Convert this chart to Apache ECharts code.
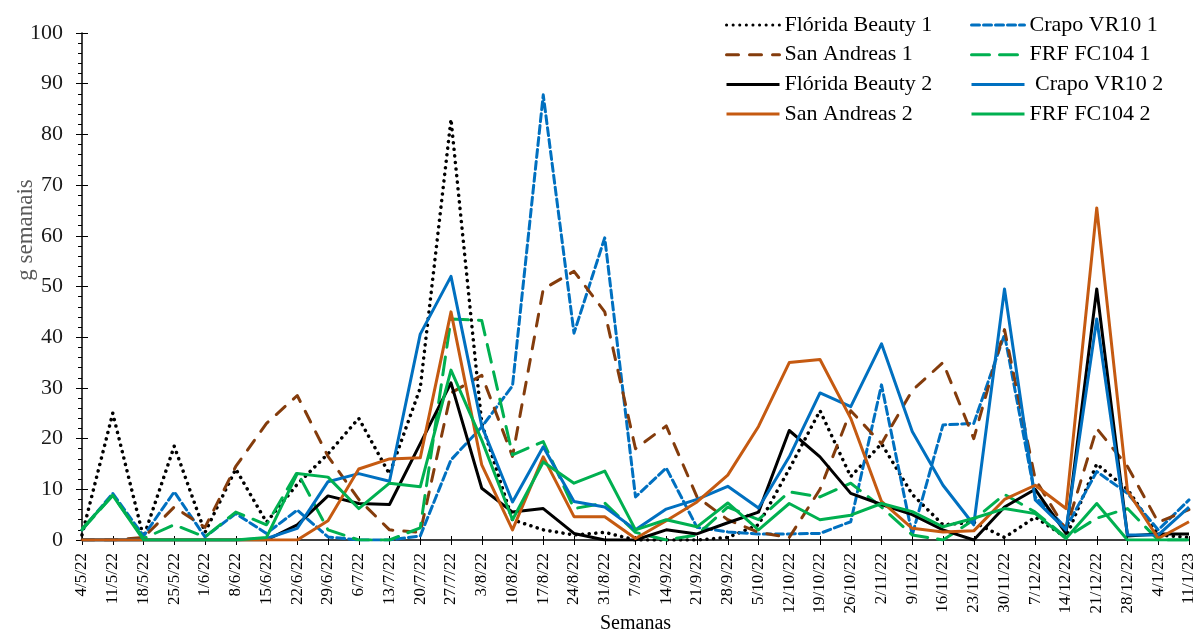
<!DOCTYPE html>
<html>
<head>
<meta charset="utf-8">
<script src="https://cdn.jsdelivr.net/npm/echarts@6/dist/echarts.min.js"></script>
<style>
  html, body { margin: 0; padding: 0; background: #fff; }
  #chart { width: 1194px; height: 632px; }
</style>
</head>
<body>
<div id="chart"></div>
<script>
const weeks = ['4/5/22','11/5/22','18/5/22','25/5/22','1/6/22','8/6/22','15/6/22','22/6/22','29/6/22','6/7/22',
  '13/7/22','20/7/22','27/7/22','3/8/22','10/8/22','17/8/22','24/8/22','31/8/22','7/9/22','14/9/22',
  '21/9/22','28/9/22','5/10/22','12/10/22','19/10/22','26/10/22','2/11/22','9/11/22','16/11/22','23/11/22',
  '30/11/22','7/12/22','14/12/22','21/12/22','28/12/22','4/1/23','11/1/23']

const florida1 = [1, 25, 0.5, 18.5, 1.5, 14, 3.5, 11, 17, 24, 13, 30, 83, 23, 4, 2, 1, 1.5, 0, 0,
  0, 0.5, 3, 14, 25.5, 12.5, 19, 9, 3, 3.5, 0.5, 4.5, 0.5, 15, 10, 1, 0.5]
const crapo1 = [2, 9.2, 0.8, 9.5, 0.6, 5.2, 1.3, 5.9, 0.6, 0, 0, 0.8, 15.8, 22.3, 30.4, 87.8, 40.8, 59.6, 8.5, 14.2,
  2.5, 1.6, 1.2, 1.2, 1.3, 3.6, 30.6, 1, 22.7, 23, 40.5, 8.5, 2.4, 13.5, 9.2, 2, 7.9]
const sanAndreas1 = [0, 0, 0.5, 6.5, 2.5, 14.5, 23, 28.5, 16.5, 8, 2, 1.5, 29, 32.5, 16.5, 49.5, 53, 45, 18, 22.5,
  8.5, 4, 1.5, 0.5, 10, 25.5, 19, 29.5, 35, 20, 41.5, 12, 2, 22, 14.5, 3.5, 6]
const frf1 = [2, 8.8, 0.3, 3, 0.6, 5.5, 3, 13.4, 2, 0, 0, 2.4, 43.6, 43.3, 16.8, 19.4, 6.2, 7.3, 1.5, 0,
  1, 6.5, 4, 9.5, 8.5, 11.2, 6.5, 1, 0, 4, 9, 5.5, 0.5, 4.3, 6.2, 0, 0]
const florida2 = [0, 0, 0, 0, 0, 0, 0, 3, 8.7, 7.2, 7, 19, 31, 10.2, 5.5, 6.2, 1.3, 0, 0, 2,
  1.2, 3.4, 5.5, 21.6, 16.4, 9.2, 7, 5, 2, 0, 6.5, 10, 1.3, 49.5, 0.8, 1.2, 1.2]
const crapo2 = [0, 0, 0, 0, 0, 0, 0.3, 2.3, 11.5, 13.1, 11.6, 40.6, 52, 22.5, 7.5, 18.4, 7.6, 6.5, 2, 6.1,
  8, 10.6, 6.3, 16.4, 29, 26.3, 38.7, 21.4, 10.8, 3, 49.5, 7.9, 2, 43.6, 1, 1, 6.5]
const sanAndreas2 = [0, 0, 0, 0, 0, 0, 0, 0, 3.8, 14, 16, 16.2, 45, 14.8, 2, 16.4, 4.6, 4.6, 0.3, 3.8,
  7.5, 12.8, 22.4, 35, 35.6, 24, 7.6, 2.3, 1.6, 1.8, 8, 10.8, 6.2, 65.5, 9.7, 0.3, 3.6]
const frf2 = [2.2, 8.8, 0, 0, 0, 0, 0.5, 13.1, 12.4, 6.2, 11.2, 10.5, 33.5, 19.7, 4, 15.4, 11.2, 13.6, 2, 4,
  2.6, 7.3, 2, 7.2, 4, 4.9, 7.2, 5.6, 2.6, 4.3, 6.2, 5.2, 0.3, 7.2, 0, 0, 0]

const serif = "'Liberation Serif', 'Times New Roman', serif"

const mkLine = (name, data, color, type) => ({
  name,
  type: 'line',
  data,
  symbol: 'none',
  lineStyle: {
    width: type === 'dot' ? 3.5 : 3,
    color,
    type: type === 'dot' ? [0.1, 6.5] : type,
    cap: type === 'solid' ? 'butt' : 'round',
    join: 'round'
  },
  itemStyle: { color }
})

const legendBase = {
  top: 14, orient: 'vertical', padding: 0,
  itemWidth: 53, itemHeight: 20, itemGap: 7.7,
  itemStyle: { opacity: 0 },
  lineStyle: { width: 3 },
  textStyle: { fontSize: 22, color: '#000', fontFamily: serif }
}

const chart = echarts.init(document.getElementById('chart'))

chart.setOption({
  animation: false,
  textStyle: { fontFamily: serif },
  legend: [
    Object.assign({}, legendBase, {
      left: 725,
      data: ['Flórida Beauty 1', 'San Andreas 1', 'Flórida Beauty 2', 'San Andreas 2']
    }),
    Object.assign({}, legendBase, {
      left: 970,
      data: ['Crapo VR10 1', 'FRF FC104 1', ' Crapo VR10 2', 'FRF FC104 2']
    })
  ],
  grid: { left: 82, right: 5, top: 33, bottom: 92, outerBoundsMode: 'none' },
  graphic: [
    {
      type: 'text',
      x: 26, y: 230, rotation: Math.PI / 2,
      style: {
        text: 'g semanais', fill: '#595959', font: "23px 'Liberation Serif'",
        align: 'center', verticalAlign: 'middle'
      }
    }
  ],
  xAxis: [
    {
      type: 'category',
      data: weeks,
      boundaryGap: false,
      name: 'Semanas',
      nameLocation: 'middle',
      nameGap: 74,
      nameMoveOverlap: false,
      nameTextStyle: { fontSize: 20, color: '#000', fontFamily: serif },
      axisLine: { lineStyle: { color: '#000', width: 1.5 } },
      axisTick: { show: true, length: 5, interval: 0, lineStyle: { color: '#000' } },
      axisLabel: { interval: 0, rotate: 90, fontSize: 17, color: '#000', margin: 13, fontFamily: serif },
      splitLine: { show: false }
    },
    {
      // upper half of the crossing ticks
      type: 'category',
      data: weeks,
      position: 'bottom',
      boundaryGap: false,
      axisLine: { show: false },
      axisTick: { show: true, inside: true, length: 4, interval: 0, lineStyle: { color: '#000' } },
      axisLabel: { show: false },
      splitLine: { show: false }
    }
  ],
  yAxis: [
    {
      type: 'value',
      min: 0, max: 100, interval: 10,
      axisLine: { show: true, lineStyle: { color: '#000', width: 1.5 } },
      axisTick: { show: true, length: 6, lineStyle: { color: '#000' } },
      minorTick: { show: true, splitNumber: 5, length: 4, lineStyle: { color: '#000' } },
      axisLabel: { fontSize: 22, color: '#1a1a1a', margin: 19, fontFamily: serif },
      splitLine: { show: false }
    },
    {
      // inner half of the major ticks
      type: 'value',
      position: 'left',
      min: 0, max: 100, interval: 10,
      axisLine: { show: false },
      axisTick: { show: true, inside: true, length: 6, lineStyle: { color: '#000' } },
      axisLabel: { show: false },
      splitLine: { show: false }
    }
  ],
  series: [
    mkLine('Flórida Beauty 1', florida1, '#000000', 'dot'),
    mkLine('Crapo VR10 1', crapo1, '#0070C0', [8, 4]),
    mkLine('San Andreas 1', sanAndreas1, '#843C0C', [12, 11]),
    mkLine('FRF FC104 1', frf1, '#00B050', [18, 10]),
    mkLine('Flórida Beauty 2', florida2, '#000000', 'solid'),
    mkLine(' Crapo VR10 2', crapo2, '#0070C0', 'solid'),
    mkLine('San Andreas 2', sanAndreas2, '#C55A11', 'solid'),
    mkLine('FRF FC104 2', frf2, '#00B050', 'solid')
  ]
})
</script>
</body>
</html>
